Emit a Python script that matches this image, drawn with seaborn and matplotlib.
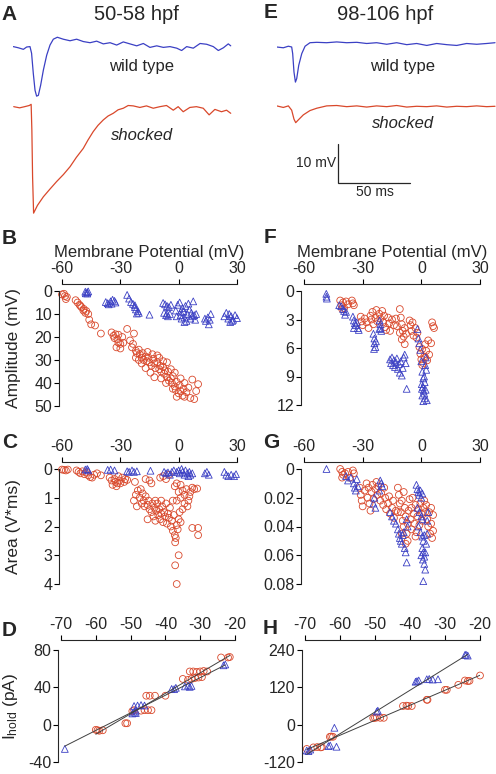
import numpy as np
import matplotlib
matplotlib.use("Agg")
import matplotlib.pyplot as plt
import matplotlib.ticker as mticker
import seaborn as sns

RED = "#d9482b"
BLUE = "#3b40c4"

# ---------------- A / E : example PSP traces (ms, mV rel. baseline) ----------------
a_wt = np.array([
    (0.2, 0.1), (3.7, -0.2), (7.2, -0.6), (9.5, 0.0), (11.8, 0.1), (12.9, -1.6),
    (14.1, -6.8), (15.3, -11.1), (16.4, -12.6), (17.6, -12.4), (19.2, -9.8),
    (21.1, -5.9), (23.4, -2.1), (25.7, 0.5), (28.0, 2.0), (30.8, 2.5), (34.9, 2.0),
    (39.6, 1.6), (44.2, 2.0), (48.8, 1.4), (53.5, 1.1), (58.1, 1.5), (62.7, 0.8),
    (67.4, 1.1), (72.0, 0.5), (76.6, 1.3), (81.2, 0.8), (85.9, 0.3), (90.5, 0.9),
    (95.1, -0.1), (99.8, 0.3), (104.4, -0.1), (109.0, 0.1), (113.7, -0.3),
    (117.1, -0.9), (120.6, 0.1), (125.2, -0.3), (129.9, 0.9), (134.5, 0.7),
    (139.1, 0.1), (142.6, -0.9), (146.1, -0.2), (149.5, 0.8), (151.2, 0.3)])
a_sh = np.array([
    (0.5, 0.0), (4.6, -0.3), (8.1, 0.0), (11.3, 0.3), (12.6, 0.6), (13.1, -6.0),
    (13.6, -18.0), (14.3, -27.3), (17.0, -25.3), (21.1, -23.1), (25.5, -21.2),
    (30.3, -19.2), (35.0, -17.4), (39.6, -15.4), (44.0, -13.0), (48.8, -10.7),
    (52.0, -8.6), (55.7, -6.4), (59.0, -4.8), (62.7, -3.4), (66.0, -2.4),
    (69.6, -1.7), (73.0, -0.8), (76.6, -0.4), (80.0, 0.3), (83.5, 0.2), (88.1, -0.2),
    (92.7, 0.2), (97.4, -0.4), (102.0, 0.0), (106.6, 0.3), (111.3, -0.9),
    (114.7, 0.0), (118.2, -1.3), (122.8, -0.2), (127.4, 0.0), (132.1, -0.4),
    (136.2, -2.1), (140.2, -0.7), (144.8, -1.3), (148.3, -0.9), (151.2, -1.7)])
e_wt = np.array([
    (0.0, 0.0), (4.6, -0.2), (8.1, 0.2), (10.4, 0.0), (11.1, -1.7), (12.0, -6.4),
    (13.0, -9.0), (13.9, -8.1), (15.3, -4.7), (17.4, -1.7), (19.7, 0.2), (23.1, 1.1),
    (27.8, 1.2), (34.7, 1.1), (41.7, 1.3), (48.6, 1.1), (55.6, 1.2), (62.5, 0.9),
    (69.4, 1.1), (76.4, 0.7), (83.3, 1.1), (90.3, 0.6), (97.2, 0.9), (104.2, 0.4),
    (111.1, 0.9), (118.1, 0.6), (125.0, 0.4), (131.9, 0.9), (138.9, 0.7),
    (145.8, 0.9), (151.6, 1.1)])
e_sh = np.array([
    (0.0, 0.2), (4.6, -0.2), (8.1, 0.2), (10.4, -0.9), (12.0, -3.2), (13.2, -4.1),
    (15.0, -3.4), (18.5, -2.1), (23.1, -1.0), (27.8, -0.4), (34.7, 0.2), (41.7, 0.3),
    (48.6, 0.0), (55.6, 0.2), (62.5, -0.1), (69.4, 0.2), (76.4, 0.0), (83.3, 0.3),
    (90.3, -0.1), (97.2, 0.1), (104.2, 0.0), (111.1, 0.2), (118.1, -0.1),
    (125.0, 0.1), (131.9, 0.0), (138.9, 0.2), (145.8, 0.0), (151.6, 0.1)])
scale_ms, scale_mv = 50, 10

# ---------------- B / F : amplitude (mV) vs membrane potential ----------------
b_sh = np.array([
    (-60, 1.5), (-59, 1.2), (-58.5, 2.2), (-58, 3.5), (-57.5, 2.6),
    (-53, 4), (-52, 5), (-51, 6), (-50, 7), (-49, 8.5), (-48, 9.5), (-47.5, 8.7),
    (-48.8, 7.8), (-46, 12.5), (-45, 14.5), (-43, 15), (-40, 18.5), (-46.5, 10),
    (-50.5, 6.5), (-34.5, 18), (-33.5, 19.5), (-32.5, 18.8), (-31.5, 21), (-31, 22.5),
    (-30, 23), (-28.5, 22.5), (-30, 25), (-32, 24.5), (-33, 20.5), (-29, 20), (-31, 19),
    (-26.5, 16.5), (-23, 18.5),
    (-25, 21.5), (-24, 24.5), (-23.5, 23), (-22, 26), (-21.5, 27), (-20.5, 25.5),
    (-20, 27.5), (-19, 29), (-18.5, 27), (-18, 30), (-17, 28.5), (-16.5, 30.5),
    (-15.5, 29), (-15, 31), (-14, 32.5), (-13, 29.5), (-12.5, 31.5), (-12, 33.5),
    (-11, 31), (-10, 34), (-9.5, 32.5), (-9, 35), (-8, 33), (-7.5, 36), (-7, 34.5),
    (-6, 37.5), (-5.5, 35), (-5, 39), (-4, 38), (-3.5, 40), (-3, 37), (-2, 41.5),
    (-1.5, 43), (-1, 39.5), (0, 44.5), (1, 43.5), (2, 45.5), (3, 46), (4, 44), (5, 42),
    (6, 46.5), (7, 38.5), (8, 47), (9, 43.5), (10, 40.5), (-12.5, 37.5), (-20.5, 30),
    (-17, 33.5), (-14.5, 35.5), (-10, 29), (-8, 30.5), (-6, 31), (-4, 34), (-2, 35.5),
    (1, 38), (3, 40), (-22, 29), (-19, 31.5), (-13.5, 27.5), (-11, 28), (-16, 26.5),
    (-6.5, 40), (-3, 42.5), (0.5, 41), (2.5, 42.5), (-1, 46), (-9, 38)])
b_wt = np.array([
    (-48, 0.3), (-47, 0.5), (-46.5, 0.2), (-47.8, 1), (-47, 1.1),
    (-37.5, 4.8), (-36.5, 5.3), (-35, 4.5), (-34, 3.8), (-33, 4.3), (-32.5, 5),
    (-36, 5.8), (-34.5, 5.5), (-26.5, 1.7), (-25.5, 3.3), (-24.5, 4.8), (-23.5, 5.6),
    (-22.5, 7), (-22, 8), (-21, 8.8), (-20.5, 9.5), (-22.5, 6.2), (-21.5, 9.8),
    (-15, 10.3), (-8, 5.2), (-7, 5.8), (-6, 6.5), (-5, 7), (-4, 6), (-7.5, 9.5),
    (-6.5, 10.5), (-5.5, 11), (-4.5, 10), (-6, 9.8), (-1.5, 8.5), (-0.5, 6), (0.5, 5),
    (1, 10.5), (1.5, 12), (2, 7.5), (2.5, 9), (3, 11.5), (3.5, 6.5), (4, 13),
    (4.5, 10), (5, 5.5), (5.5, 8), (6, 12), (6.5, 9.5), (7, 11), (7.5, 4.5),
    (8, 10.5), (8.5, 12.5), (9, 10), (1, 9), (3, 13.5), (-1, 11), (13.5, 12),
    (14, 13), (15, 11.5), (15.5, 14.5), (16, 12.5), (16.5, 10), (23.5, 11),
    (24.5, 9.5), (25.5, 12), (26.5, 13.5), (27, 11), (28, 12.5), (29, 10.5),
    (30, 11.8), (26, 10), (27.5, 13)])
f_sh = np.array([
    (-41.5, 1.0), (-40.8, 1.5), (-40, 1.2), (-39.5, 1.8), (-38.5, 1.1), (-37.5, 1.4),
    (-35.5, 1.0), (-35, 1.3), (-34.5, 1.5), (-40.5, 1.9),
    (-31, 2.7), (-30.5, 3.2), (-30, 3.6), (-29, 2.9), (-28, 3.3), (-27, 3.9),
    (-26, 2.6), (-25.5, 3.0), (-25, 2.2), (-24.5, 3.5), (-23.5, 2.8), (-23, 2.0),
    (-22.5, 3.2), (-21.5, 2.4), (-21, 2.9), (-20, 2.1), (-19.5, 3.3), (-19, 2.6),
    (-18.5, 3.8), (-18, 4.1), (-17, 2.8), (-16.5, 3.4), (-16, 4.2), (-15, 3.0),
    (-14, 3.6), (-13, 2.9), (-12.5, 3.7),
    (-11, 1.9), (-10.5, 2.8), (-10, 3.5), (-9.5, 4.2), (-9, 4.8), (-8.5, 3.9),
    (-11, 4.4), (-10, 5.1), (-8.5, 5.6), (-7.8, 4.5),
    (-6, 3.1), (-5.5, 3.6), (-5, 4.2), (-4.5, 3.3), (-4, 4.7), (-3, 3.9), (-2.5, 4.9),
    (-2, 4.4), (-1, 5.9), (-0.5, 6.6), (0, 7.2), (0.5, 6.1), (1, 7.6), (1.5, 6.9),
    (2, 5.6), (2.5, 6.3), (3, 7.3), (3.5, 5.2), (4, 6.7), (5, 5.5), (0.5, 7.8),
    (2, 7.0), (5.5, 3.3), (6, 3.7), (6.5, 3.9)])
f_wt = np.array([
    (-48.6, 0.3), (-48.5, 0.6), (-48.3, 0.8),
    (-42, 1.5), (-41, 1.6), (-40, 1.9), (-39.5, 2.1), (-39, 2.5), (-38.5, 2.2),
    (-35, 2.7), (-34.5, 3.1), (-34, 3.4), (-33.5, 3.6), (-33, 3.3), (-32.5, 3.9),
    (-32, 4.1), (-34.5, 3.9),
    (-24.5, 4.5), (-24, 5), (-24, 5.5), (-23.5, 5.9), (-23.2, 5.3), (-24.2, 6.1),
    (-21.3, 3.1), (-21, 3.5), (-20.8, 3.9), (-20.5, 4.2), (-21.5, 4),
    (-16, 7.2), (-15.5, 7.6), (-15, 7.0), (-14.5, 7.8), (-14, 7.3), (-13.5, 8.0),
    (-13, 7.5), (-12.5, 7.1), (-12, 8.2), (-11.5, 7.7), (-11, 8.6), (-10.5, 7.4),
    (-10, 8.9), (-9.5, 8.1), (-9, 7.0), (-8.5, 6.7), (-8, 7.6), (-7.5, 10.3),
    (-2, 4.0), (-1.5, 5.0), (-1, 5.5), (-0.5, 6.2), (0, 7.4), (0.5, 8.5), (1, 9.2),
    (0.2, 9.8), (0.8, 10.1), (1.2, 10.5), (1.5, 10.8), (0.5, 11.0), (1.8, 11.3),
    (1, 11.6), (2, 7.8), (2.3, 7.0), (2.5, 8.3), (1.7, 9.6), (2.2, 10.4), (2.8, 11.5),
    (0.3, 10.3), (1.4, 9.0)])

# ---------------- C / G : area (V*ms) vs membrane potential ----------------
c_sh = np.array([
    (-60, 0.02), (-59, 0.03), (-58, 0.05), (-57, 0.02),
    (-52.5, 0.05), (-51.5, 0.1), (-50.5, 0.15), (-49.5, 0.08), (-48.5, 0.18),
    (-47.5, 0.12), (-46.5, 0.22), (-45.5, 0.28), (-44.5, 0.3), (-43.5, 0.2),
    (-42, 0.15), (-40, 0.22),
    (-35.5, 0.3), (-34.5, 0.4), (-34, 0.55), (-33, 0.35), (-32.5, 0.45), (-32, 0.6),
    (-31, 0.25), (-30.5, 0.4), (-30, 0.5), (-29, 0.3), (-28, 0.45), (-27.5, 0.35),
    (-26.5, 0.38), (-31.5, 0.5), (-22.5, 0.45), (-17, 0.35), (-15, 0.4), (-14, 0.5),
    (-9.5, 0.3), (-8, 0.25), (-6.5, 0.35), (-5, 0.2),
    (-23, 1.1), (-22, 0.9), (-21, 0.75), (-20, 1.0), (-19.5, 0.7), (-19, 1.2),
    (-18.5, 0.85), (-18, 1.1), (-17.5, 1.3), (-17, 0.95), (-16, 1.25), (-15.5, 1.1),
    (-15, 1.4), (-14, 1.5), (-13.5, 1.2), (-13, 1.65), (-12.5, 1.35), (-12, 1.8),
    (-11.5, 1.45), (-11, 1.2), (-10.5, 1.6), (-10, 1.4), (-9.5, 1.75), (-9, 1.55),
    (-8.5, 1.3), (-8, 1.85), (-7.5, 1.5), (-7, 1.65), (-6.5, 1.2), (-6, 1.9),
    (-5.5, 1.55), (-5, 1.7), (-4.5, 1.35), (-4, 2.0), (-3.5, 1.8), (-3, 2.15),
    (-2.5, 1.6), (-2, 2.3), (-1.8, 2.55), (-1.5, 2.4), (-1, 1.95), (-0.5, 2.1),
    (0, 1.75), (0.5, 1.5), (1, 1.85), (-1, 1.1), (-2, 0.6), (-1, 0.5), (0, 0.8),
    (1, 1.0), (-3, 1.1), (-12, 1.1), (-16, 1.75), (-21.5, 1.3), (-9, 1.1),
    (-1.8, 3.35), (-1, 4.0), (0, 3.0),
    (1, 0.55), (2, 0.75), (3, 0.9), (4, 0.7), (5, 1.1), (6, 0.8), (7, 0.65), (8, 0.7),
    (9.5, 0.68), (4.5, 1.3), (5.5, 0.95), (3, 1.2), (2, 1.4), (7, 2.05), (10, 2.05),
    (10, 2.3)])
c_wt = np.array([
    (-48, 0.02), (-47, 0.0), (-46.5, 0.05), (-36.5, 0.03), (-35, 0.02), (-33, 0.05),
    (-26.5, 0.08), (-25.5, 0.1), (-24, 0.05), (-23, 0.1), (-21.5, 0.08), (-14.5, 0.06),
    (-7.5, 0.1), (-6.5, 0.15), (-5.5, 0.12), (-4.5, 0.2), (-3.5, 0.1), (-2.5, 0.05),
    (-1, 0.1), (0, 0.05), (0.5, 0.15), (1.5, 0.0), (2, 0.1), (3, 0.2), (3.5, 0.05),
    (4.5, 0.15), (5, 0.25), (5.5, 0.1), (6, 0.2), (7, 0.15), (13.5, 0.15),
    (14.5, 0.1), (15.5, 0.2), (23.5, 0.1), (24.5, 0.2), (25.5, 0.25), (27, 0.2),
    (28.5, 0.25), (29.5, 0.18)])
g_sh = np.array([
    (-41.5, 0.0), (-40.5, 0.002), (-40, 0.004), (-39, 0.003), (-37.5, 0.002),
    (-36.5, 0.006), (-35, 0.001), (-34.5, 0.003), (-40.5, 0.006),
    (-31.5, 0.013), (-31, 0.018), (-30.5, 0.022), (-30, 0.026), (-29, 0.015),
    (-28, 0.01), (-27.5, 0.02), (-27, 0.013), (-26.5, 0.024), (-26, 0.029),
    (-25.5, 0.016), (-25, 0.011), (-24.5, 0.021), (-23.5, 0.014), (-23, 0.009),
    (-22.5, 0.018), (-22, 0.012), (-21, 0.022), (-20.5, 0.017), (-19.5, 0.025),
    (-19, 0.013), (-18.5, 0.02), (-18, 0.028), (-17, 0.024), (-16.5, 0.019),
    (-16, 0.031), (-15, 0.027), (-14.5, 0.022), (-14, 0.034), (-13, 0.029),
    (-12, 0.013), (-11.5, 0.018), (-11, 0.024), (-10.5, 0.03), (-10, 0.022),
    (-9.5, 0.036), (-9, 0.016), (-9, 0.04), (-8.5, 0.027), (-8, 0.033), (-7.5, 0.045),
    (-7, 0.05), (-7, 0.038), (-6.5, 0.029), (-6, 0.021), (-5.5, 0.035), (-5, 0.042),
    (-5, 0.027), (-4.5, 0.02), (-4, 0.031), (-3.5, 0.038), (-3, 0.025), (-2.5, 0.044),
    (-2, 0.033), (-1.5, 0.028), (-1, 0.039), (-0.5, 0.024), (0, 0.031), (0.5, 0.036),
    (1, 0.027), (1.5, 0.022), (2, 0.03), (2.5, 0.025), (3, 0.035), (3.5, 0.04),
    (4, 0.03), (4.5, 0.045), (5, 0.038), (5.5, 0.048), (6, 0.043), (5, 0.027),
    (6, 0.032), (-8, 0.052), (-10, 0.045), (-3, 0.047), (-12, 0.03)])
g_wt = np.array([
    (-48.5, 0.0), (-38.5, 0.005), (-37.5, 0.008), (-36, 0.006), (-34.5, 0.01),
    (-34, 0.013), (-33.5, 0.015), (-33, 0.007), (-32.5, 0.012),
    (-21, 0.008), (-20.5, 0.01), (-20, 0.012), (-21.5, 0.015),
    (-24.5, 0.024), (-24, 0.02), (-23.5, 0.027),
    (-16, 0.03), (-15, 0.033), (-14, 0.036), (-13, 0.038), (-12, 0.042),
    (-11.5, 0.045), (-11, 0.048), (-10.5, 0.05), (-10, 0.052), (-9.5, 0.046),
    (-9, 0.044), (-8.5, 0.055), (-8, 0.058), (-7.5, 0.035), (-7.5, 0.065), (-7, 0.04),
    (-2.5, 0.011), (-2, 0.014), (-1.5, 0.016), (-1, 0.018), (-0.5, 0.015), (0, 0.02),
    (0.5, 0.017), (-2, 0.027), (-1, 0.03), (0, 0.033), (0.5, 0.035), (-1.5, 0.04),
    (-0.5, 0.044), (0.5, 0.047), (1, 0.05), (1.5, 0.046), (0.5, 0.055), (1, 0.058),
    (1.5, 0.061), (0.8, 0.063), (1.5, 0.066), (2, 0.07), (1, 0.078), (2.5, 0.052),
    (3, 0.045), (3.5, 0.03), (2, 0.058), (3, 0.036), (0, 0.06)])

# ---------------- D / H : holding current (pA) vs holding potential ----------------
d_sh = np.array([
    (-60, -5.5), (-59.5, -6), (-59, -6.5), (-58, -6), (-51.5, 1.5), (-51, 1.5),
    (-49.5, 14.5), (-49, 15.5), (-47, 15), (-46, 15.5), (-45, 15.5), (-44, 15.5),
    (-45.5, 31), (-44.5, 31), (-43, 31), (-40, 31), (-35, 49), (-33.5, 48),
    (-32.5, 49), (-31.5, 50), (-30.5, 50.5), (-29.5, 51), (-33, 57), (-32, 57),
    (-31, 56.5), (-30, 57), (-29, 57.5), (-28, 57), (-24, 72), (-22, 72), (-21.5, 72.5)])
d_wt = np.array([
    (-68.9, -26), (-49.5, 12), (-49, 13), (-48.5, 12.5), (-49, 20), (-48, 20.5),
    (-47, 21), (-46, 20.5), (-48.5, 15), (-38.2, 38.3), (-37, 39.5), (-37.5, 38),
    (-34.4, 41), (-33.5, 42), (-32.5, 41.5), (-33, 40.5), (-23.3, 63.6), (-22.8, 64.5)])
h_sh = np.array([
    (-69.5, -78), (-67.6, -73), (-66.5, -72), (-65.5, -73), (-65.2, -72),
    (-62.9, -39), (-62.5, -38), (-62, -39), (-50.5, 21), (-50, 22), (-49.5, 23),
    (-48.5, 22), (-47.5, 22), (-42, 60), (-41, 61), (-40.5, 60), (-39.5, 60),
    (-35.2, 80), (-35, 80), (-30, 112), (-29.5, 112), (-26.2, 128), (-24.3, 142),
    (-23.5, 140), (-23, 141), (-20, 158)])
h_wt = np.array([
    (-69.5, -83), (-69, -85), (-68.5, -80), (-61.6, -10), (-63.3, -69), (-62.8, -67),
    (-61, -71), (-49.2, 45), (-49.5, 42), (-38.4, 138), (-38, 140), (-37.5, 142),
    (-35.2, 146), (-34.5, 147), (-33.5, 145), (-32, 146), (-24.3, 224), (-24, 225),
    (-23.5, 222)])

vm_ticks = [-60, -30, 0, 30]
hold_ticks = [-70, -60, -50, -40, -30, -20]
amp_ticks_b = [0, 10, 20, 30, 40, 50]
amp_ticks_f = [0, 3, 6, 9, 12]
area_ticks_c = [0, 1, 2, 3, 4]
area_ticks_g = [0, 0.02, 0.04, 0.06, 0.08]
ihold_ticks_d = [-40, 0, 40, 80]
ihold_ticks_h = [-120, 0, 120, 240]

# ---------------- figure ----------------
sns.set_theme(style="ticks")
plt.rcParams["font.family"] = ["Liberation Sans", "DejaVu Sans"]
plt.rcParams["axes.unicode_minus"] = False
plt.rcParams["axes.linewidth"] = 0.8

W, H = 496, 774
fig = plt.figure(figsize=(W / 100, H / 100), dpi=100)
fig.patch.set_facecolor("white")


def fx(x):
    return x / W


def fy(y):
    return 1 - y / H


def add_px_axes(left, top, width, height):
    return fig.add_axes([fx(left), fy(top + height), width / W, height / H])


# trace panels share one scale
PX_MS, PX_MV = 1.44, 3.9
SHOCK_OFFSET = -15.3


def trace_axes(left, width):
    ax = add_px_axes(left, 25, width, 200)
    ax.set_xlim(0, width / PX_MS)
    top_mv = (47 - 25) / PX_MV
    ax.set_ylim(top_mv - 200 / PX_MV, top_mv)
    ax.axis("off")
    return ax


axA = trace_axes(13, 240)
axE = trace_axes(276.7, 219.3)
for ax, wt, sh in [(axA, a_wt, a_sh), (axE, e_wt, e_sh)]:
    sns.lineplot(x=wt[:, 0], y=wt[:, 1], ax=ax, color=BLUE, lw=0.9, sort=False)
    sns.lineplot(x=sh[:, 0], y=sh[:, 1] + SHOCK_OFFSET, ax=ax, color=RED, lw=0.9, sort=False)

# scale bar
t0, v0 = 42.8, -34.8
axE.plot([t0, t0, t0 + scale_ms], [v0 + scale_mv, v0, v0], color="0.15", lw=0.9,
         solid_joinstyle="miter")

fig.text(fx(336), fy(163), f"{scale_mv} mV", ha="right", va="center", fontsize=10)
fig.text(fx(375), fy(192), f"{scale_ms} ms", ha="center", va="center", fontsize=10)

fig.text(fx(136), fy(15), "50-58 hpf", ha="center", va="center", fontsize=14.5)
fig.text(fx(385), fy(15), "98-106 hpf", ha="center", va="center", fontsize=14.5)
for cx, wy, sy in [(142, 66, 135), (403, 66, 124)]:
    fig.text(fx(cx), fy(wy), "wild type", ha="center", va="center", fontsize=12)
    fig.text(fx(cx), fy(sy), "shocked", ha="center", va="center", fontsize=12,
             style="italic")

for letter, (lx, ly) in {"A": (9.5, 14), "E": (270.5, 12.5), "B": (9.5, 239),
                         "F": (270, 237.5), "C": (9.5, 443), "G": (271, 443),
                         "D": (9.5, 630), "H": (270.5, 629)}.items():
    fig.text(fx(lx), fy(ly), letter, ha="center", va="center", fontsize=15,
             fontweight="bold")


def scatter_panel(rect, sh, wt, xticks, yticks, invert, top_off, fit=False):
    ax = add_px_axes(*rect)
    if fit:
        for pts in (wt, sh):
            sns.regplot(x=pts[:, 0], y=pts[:, 1], ax=ax, scatter=False, ci=None,
                        color="0.25", line_kws=dict(lw=0.7))
    sns.scatterplot(x=sh[:, 0], y=sh[:, 1], ax=ax, marker="o", s=24,
                    facecolor="none", edgecolor=RED, linewidth=0.6, clip_on=False)
    sns.scatterplot(x=wt[:, 0], y=wt[:, 1], ax=ax, marker="^", s=24,
                    facecolor="none", edgecolor=BLUE, linewidth=0.6, clip_on=False)
    ax.set_xticks(xticks)
    ax.set_yticks(yticks)
    ax.set_xlim(xticks[0], xticks[-1])
    if invert:
        ax.set_ylim(yticks[-1], yticks[0])
    else:
        ax.set_ylim(yticks[0], yticks[-1])
    ax.xaxis.set_major_formatter(mticker.StrMethodFormatter("{x:g}"))
    ax.yaxis.set_major_formatter(mticker.StrMethodFormatter("{x:g}"))
    sns.despine(ax=ax, top=False, bottom=True, left=False, right=True,
                offset={"top": top_off, "left": 2}, trim=True)
    ax.xaxis.set_ticks_position("top")
    ax.xaxis.set_label_position("top")
    ax.tick_params(axis="both", labelsize=11.5, length=3.5, width=0.8, color="black")
    ax.tick_params(axis="x", pad=2.5)
    ax.tick_params(axis="y", pad=1.5)
    ax.set_facecolor("none")
    return ax


axB = scatter_panel((62, 291, 175, 115), b_sh, b_wt, vm_ticks, amp_ticks_b, True, 5)
axF = scatter_panel((304, 291, 176, 114), f_sh, f_wt, vm_ticks, amp_ticks_f, True, 5)
axC = scatter_panel((62, 469, 175, 115), c_sh, c_wt, vm_ticks, area_ticks_c, True, 5)
axG = scatter_panel((304, 469, 176, 115), g_sh, g_wt, vm_ticks, area_ticks_g, True, 5)
axD = scatter_panel((61, 650, 174, 112), d_sh, d_wt, hold_ticks, ihold_ticks_d, False, 7,
                    fit=True)
axH = scatter_panel((305, 650, 175, 112), h_sh, h_wt, hold_ticks, ihold_ticks_h, False, 7,
                    fit=True)

for ax in (axB, axF):
    ax.set_xlabel("Membrane Potential (mV)", fontsize=12, labelpad=3)

axB.set_ylabel("Amplitude (mV)", fontsize=12.5)
axC.set_ylabel("Area (V*ms)", fontsize=12.5)
axD.set_ylabel(r"$\mathregular{I_{hold}}$ (pA)", fontsize=12.5)
for ax in (axB, axC, axD):
    ax.yaxis.set_label_coords((21 - 62) / 175, 0.5)

fig.savefig("out.png", dpi=100, facecolor="white")
